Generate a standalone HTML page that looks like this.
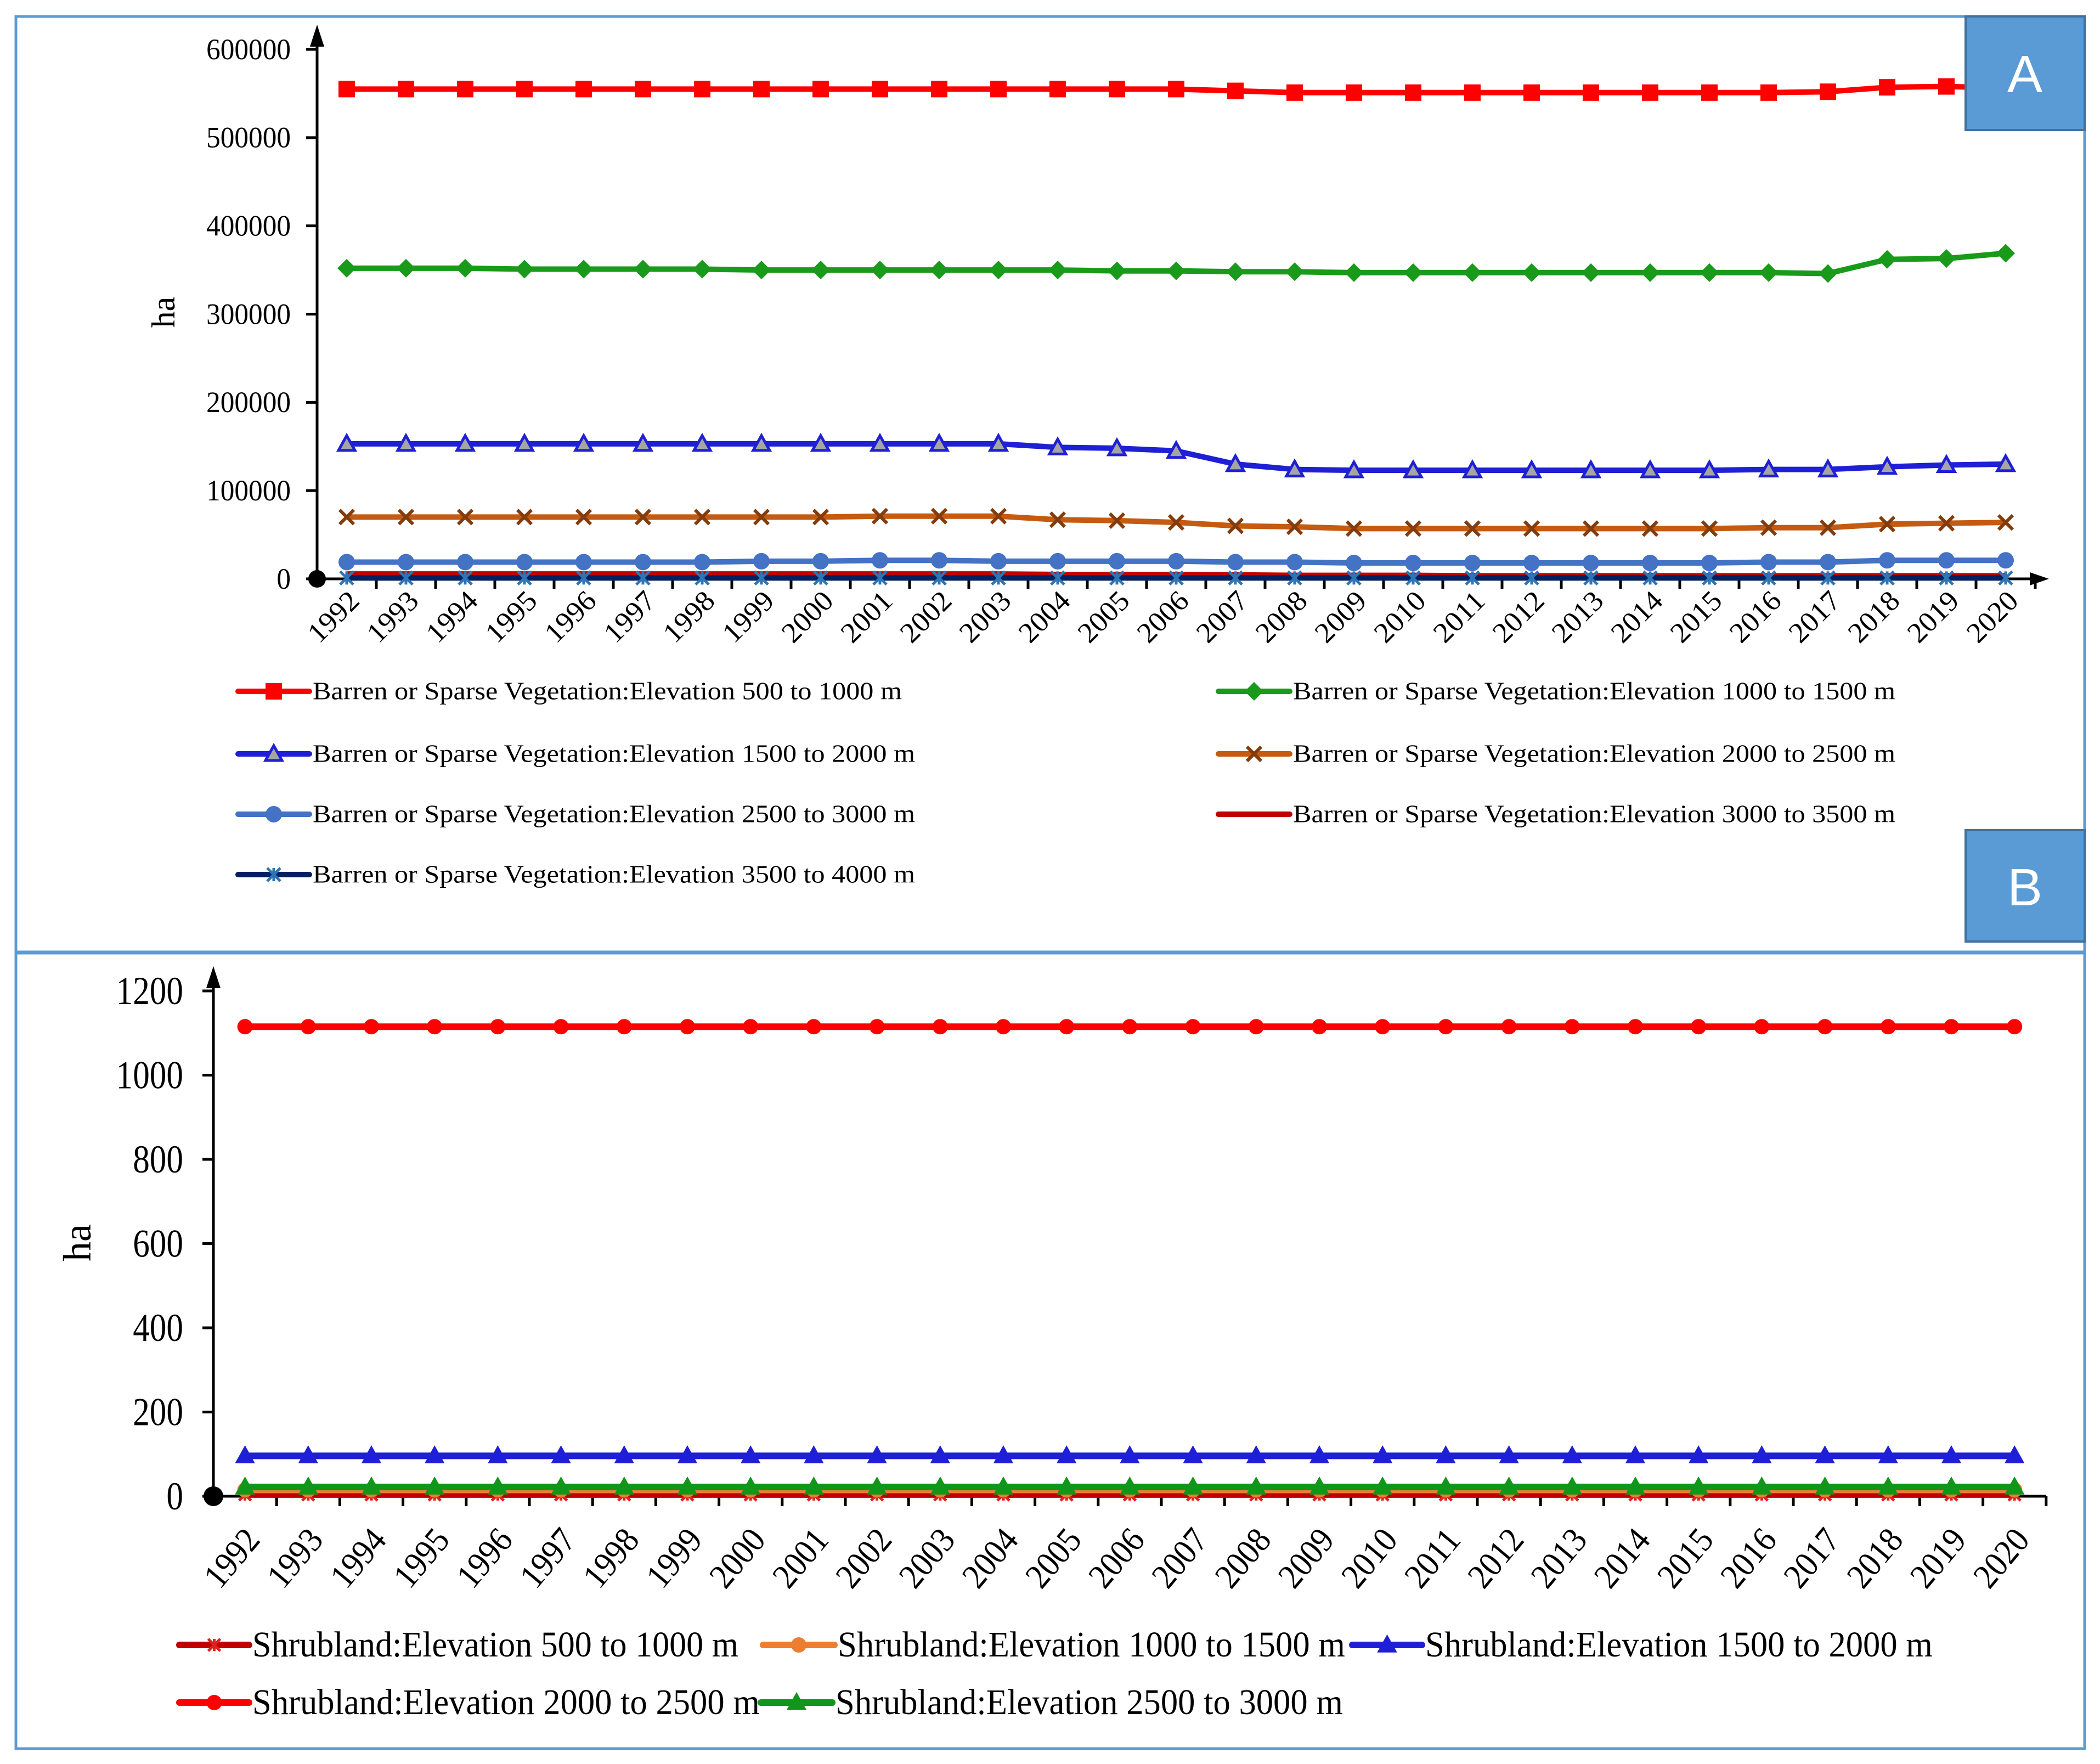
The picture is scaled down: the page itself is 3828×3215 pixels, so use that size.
<!DOCTYPE html>
<html><head><meta charset="utf-8"><style>
html,body{margin:0;padding:0;background:#fff;}
svg{display:block;font-family:"Liberation Serif",serif;}
</style></head><body>
<svg id="fig" width="3828" height="3215" viewBox="0 0 3828 3215" xmlns="http://www.w3.org/2000/svg">
<rect x="29" y="30" width="3771" height="1705" fill="none" stroke="#5b9bd5" stroke-width="5"/>
<rect x="29" y="1737" width="3771" height="1450" fill="none" stroke="#5b9bd5" stroke-width="5"/>
<g id="chartA"></g>
<g id="chartB"></g>
<rect x="3583" y="30" width="217" height="207" fill="#5b9bd5" stroke="#41719c" stroke-width="4"/>
<text x="3691" y="168" font-family="Liberation Sans, sans-serif" font-size="96" fill="#fff" text-anchor="middle">A</text>
<rect x="3583" y="1513" width="217" height="203" fill="#5b9bd5" stroke="#41719c" stroke-width="4"/>
<text x="3691" y="1650" font-family="Liberation Sans, sans-serif" font-size="96" fill="#fff" text-anchor="middle">B</text>
</svg>
<script>
const years = [1992,1993,1994,1995,1996,1997,1998,1999,2000,2001,2002,2003,2004,2005,2006,2007,2008,2009,2010,2011,2012,2013,2014,2015,2016,2017,2018,2019,2020];
const aTicks = [0,100000,200000,300000,400000,500000,600000];
const aNames = ["Barren or Sparse Vegetation:Elevation 500 to 1000 m","Barren or Sparse Vegetation:Elevation 1000 to 1500 m","Barren or Sparse Vegetation:Elevation 1500 to 2000 m","Barren or Sparse Vegetation:Elevation 2000 to 2500 m","Barren or Sparse Vegetation:Elevation 2500 to 3000 m","Barren or Sparse Vegetation:Elevation 3000 to 3500 m","Barren or Sparse Vegetation:Elevation 3500 to 4000 m"];
const a500 = [555000,555000,555000,555000,555000,555000,555000,555000,555000,555000,555000,555000,555000,555000,555000,553000,551000,551000,551000,551000,551000,551000,551000,551000,551000,552000,557000,558000,556000];
const a1000 = [352000,352000,352000,351000,351000,351000,351000,350000,350000,350000,350000,350000,350000,349000,349000,348000,348000,347000,347000,347000,347000,347000,347000,347000,347000,346000,362000,363000,369000];
const a1500 = [153000,153000,153000,153000,153000,153000,153000,153000,153000,153000,153000,153000,149000,148000,145000,130000,124000,123000,123000,123000,123000,123000,123000,123000,124000,124000,127000,129000,130000];
const a2000 = [70000,70000,70000,70000,70000,70000,70000,70000,70000,71000,71000,71000,67000,66000,64000,60000,59000,57000,57000,57000,57000,57000,57000,57000,58000,58000,62000,63000,64000];
const a2500 = [19000,19000,19000,19000,19000,19000,19000,20000,20000,21000,21000,20000,20000,20000,20000,19000,19000,18000,18000,18000,18000,18000,18000,18000,19000,19000,21000,21000,21000];
const a3000 = [5500,5500,5500,5500,5500,5500,5500,5500,5500,5500,5500,5500,5000,5000,5000,4500,4000,4000,4000,3500,3500,3500,3500,3500,3500,3500,3500,3500,3500];
const a3500 = [1000,1000,1000,1000,1000,1000,1000,1000,1000,1000,1000,1000,1000,1000,1000,1000,1000,1000,1000,1000,1000,1000,1000,1000,1000,1000,1000,1000,1000];
const bTicks = [0,200,400,600,800,1000,1200];
const bNames = ["Shrubland:Elevation 500 to 1000 m","Shrubland:Elevation 1000 to 1500 m","Shrubland:Elevation 1500 to 2000 m","Shrubland:Elevation 2000 to 2500 m","Shrubland:Elevation 2500 to 3000 m"];
const b500 = [4,4,4,4,4,4,4,4,4,4,4,4,4,4,4,4,4,4,4,4,4,4,4,4,4,4,4,4,4];
const b1000 = [15,15,15,15,15,15,15,15,15,15,15,15,15,15,15,15,15,15,15,15,15,15,15,15,15,15,15,15,15];
const b1500 = [96,96,96,96,96,96,96,96,96,96,96,96,96,96,96,96,96,96,96,96,96,96,96,96,96,96,96,96,96];
const b2000 = [1115,1115,1115,1115,1115,1115,1115,1115,1115,1115,1115,1115,1115,1115,1115,1115,1115,1115,1115,1115,1115,1115,1115,1115,1115,1115,1115,1115,1115];
const b2500 = [22,22,22,22,22,22,22,22,22,22,22,22,22,22,22,22,22,22,22,22,22,22,22,22,22,22,22,22,22];

const NS="http://www.w3.org/2000/svg";
function mk(parent,tag,attrs){const e=document.createElementNS(NS,tag);for(const k in attrs)e.setAttribute(k,attrs[k]);parent.appendChild(e);return e;}

function marker(g,type,x,y,s,fill,stroke){
  let e;
  if(type==="square"){e=mk(g,"rect",{x:x-s/2,y:y-s/2,width:s,height:s,fill:fill});}
  else if(type==="diamond"){e=mk(g,"polygon",{points:`${x},${y-s/2} ${x+s/2},${y} ${x},${y+s/2} ${x-s/2},${y}`,fill:fill});}
  else if(type==="triangle"){e=mk(g,"polygon",{points:`${x},${y-s/2} ${x+s/2},${y+s/2*0.8} ${x-s/2},${y+s/2*0.8}`,fill:fill,stroke:stroke,"stroke-width":5});}
  else if(type==="circle"){e=mk(g,"circle",{cx:x,cy:y,r:s/2,fill:fill});}
  else if(type==="x"){e=mk(g,"path",{d:`M${x-s/2},${y-s/2}L${x+s/2},${y+s/2}M${x+s/2},${y-s/2}L${x-s/2},${y+s/2}`,stroke:fill,"stroke-width":6,fill:"none"});}
  else if(type==="star"){e=mk(g,"path",{d:`M${x-s/2},${y-s/2}L${x+s/2},${y+s/2}M${x+s/2},${y-s/2}L${x-s/2},${y+s/2}M${x},${y-s/2}L${x},${y+s/2}`,stroke:fill,"stroke-width":5,fill:"none"});}
  else return null;
  return e;
}

function chart(cfg){
  const g=document.getElementById(cfg.id);
  const X=i=>cfg.x0+cfg.cw*(i+0.5);
  const Y=v=>cfg.y0-(v/cfg.max)*(cfg.y0-cfg.yTop);
  const xEnd=cfg.x0+cfg.cw*years.length;
  let e=mk(g,"line",{x1:cfg.x0,y1:cfg.y0,x2:cfg.x0,y2:cfg.yTop-20,stroke:"#000","stroke-width":5});
  
  
  e=mk(g,"polygon",{points:`${cfg.x0},${cfg.yTop-45} ${cfg.x0-13},${cfg.yTop-5} ${cfg.x0+13},${cfg.yTop-5}`,fill:"#000"});
  
  
  e=mk(g,"line",{x1:cfg.x0,y1:cfg.y0,x2:xEnd,y2:cfg.y0,stroke:"#000","stroke-width":5});
  
  
  if(cfg.xArrow){
    e=mk(g,"polygon",{points:`${xEnd+25},${cfg.y0} ${xEnd-10},${cfg.y0-12} ${xEnd-10},${cfg.y0+12}`,fill:"#000"});
    
    
  }
  e=mk(g,"circle",{cx:cfg.x0,cy:cfg.y0,r:cfg.dot,fill:"#000"});
  
  
  cfg.ticks.forEach(t=>{
    const y=Y(t);
    let l=mk(g,"line",{x1:cfg.x0-20,y1:y,x2:cfg.x0,y2:y,stroke:"#000","stroke-width":5});
    
    
    let tx=mk(g,"text",{x:cfg.ylabX,y:y+cfg.yfs*0.33,"font-size":cfg.yfs,"text-anchor":"end",fill:"#000"});
    if(cfg.yScale){tx.setAttribute("transform",`translate(${cfg.ylabX},0) scale(${cfg.yScale},1) translate(${-cfg.ylabX},0)`);}
    tx.textContent=t;
    
    
  });
  for(let i=1;i<=years.length;i++){
    const x=cfg.x0+cfg.cw*i;
    let l=mk(g,"line",{x1:x,y1:cfg.y0,x2:x,y2:cfg.y0+18,stroke:"#000","stroke-width":5});
    
    
  }
  years.forEach((yr,i)=>{
    const x=X(i)+cfg.xlabDx, y=cfg.xlabY;
    let tx=mk(g,"text",{x:x,y:y,"font-size":cfg.xfs,"text-anchor":"end",fill:"#000",transform:`rotate(${cfg.rot},${x},${y})`,textLength:cfg.xLen,lengthAdjust:"spacingAndGlyphs"});
    tx.textContent=yr;
    
    
  });
  let ha=mk(g,"text",{x:cfg.haX,y:cfg.haY,"font-size":cfg.hafs,"text-anchor":"middle",fill:"#000",transform:`rotate(-90,${cfg.haX},${cfg.haY})`});
  ha.textContent="ha";
  
  
  cfg.series.forEach(s=>{
    const sg=mk(g,"g",{});
    
    
    const pts=s.data.map((v,i)=>`${X(i)},${Y(v)}`).join(" ");
    let pl=mk(sg,"polyline",{points:pts,fill:"none",stroke:s.color,"stroke-width":cfg.lw,"stroke-linejoin":"round"});
    
    
    s.data.forEach((v,i)=>{
      const m=marker(sg,s.marker,X(i),Y(v),s.ms||cfg.ms,s.mfill||s.color,s.color);
      if(m){
        
        
      }
    });
  });
  cfg.legend.forEach((L,k)=>{
    const s=cfg.series[k];
    const lg=mk(g,"g",{});
    
    
    mk(lg,"line",{x1:L.x,y1:L.y,x2:L.x+L.lw,y2:L.y,stroke:s.color,"stroke-width":cfg.lw,"stroke-linecap":"round"});
    marker(lg,s.marker,L.x+L.lw/2,L.y,s.ms||cfg.ms,s.mfill||s.color,s.color);
    const tx=mk(lg,"text",{x:L.x+L.lw+6,y:L.y+cfg.lfs*0.32,"font-size":cfg.lfs,fill:"#000",textLength:L.tl,lengthAdjust:"spacingAndGlyphs"});
    tx.textContent=L.name;
  });
}

const aLegX1=434,aLegX2=2221;
chart({id:"chartA",x0:578,y0:1055,yTop:90,max:600000,cw:108,ticks:aTicks,ylabX:530,yfs:54,yScale:0.95,xfs:52,rot:-45,xlabY:1098,xlabDx:26,xLen:108,
  haX:318,haY:569,hafs:60,lw:10,ms:30,dot:16,xArrow:true,lfs:46,
  series:[
    {key:"500-1000",data:a500,color:"#ff0000",marker:"square"},
    {key:"1000-1500",data:a1000,color:"#1a9a1a",marker:"diamond",ms:34},
    {key:"1500-2000",data:a1500,color:"#1f1fd6",marker:"triangle",mfill:"#a5a5a5"},
    {key:"2000-2500",data:a2000,color:"#c55a11",marker:"x",mfill:"#843c0c",ms:26},
    {key:"2500-3000",data:a2500,color:"#4472c4",marker:"circle"},
    {key:"3000-3500",data:a3000,color:"#c00000",marker:"none"},
    {key:"3500-4000",data:a3500,color:"#002060",marker:"star",mfill:"#2e75b6",ms:24}
  ],
  legend:[
    {x:aLegX1,y:1260,lw:130,name:aNames[0],tl:1074},
    {x:aLegX2,y:1260,lw:130,name:aNames[1],tl:1098},
    {x:aLegX1,y:1374,lw:130,name:aNames[2],tl:1098},
    {x:aLegX2,y:1374,lw:130,name:aNames[3],tl:1098},
    {x:aLegX1,y:1484,lw:130,name:aNames[4],tl:1098},
    {x:aLegX2,y:1484,lw:130,name:aNames[5],tl:1098},
    {x:aLegX1,y:1594,lw:130,name:aNames[6],tl:1098}
  ]});

chart({id:"chartB",x0:389,y0:2727,yTop:1806,max:1200,cw:115.2,ticks:bTicks,ylabX:334,yfs:72,yScale:0.85,xfs:64,rot:-50,xlabY:2808,xlabDx:30,xLen:118,
  haX:165,haY:2265,hafs:72,lw:12,ms:28,dot:18,xArrow:false,lfs:66,
  series:[
    {key:"shrub-500-1000",data:b500,color:"#c00000",marker:"star",mfill:"#e02020",ms:22},
    {key:"shrub-1000-1500",data:b1000,color:"#ed7d31",marker:"circle"},
    {key:"shrub-1500-2000",data:b1500,color:"#1f1fd6",marker:"triangle",mfill:"#1f1fd6"},
    {key:"shrub-2000-2500",data:b2000,color:"#ff0000",marker:"circle"},
    {key:"shrub-2500-3000",data:b2500,color:"#109618",marker:"triangle",mfill:"#109618"}
  ],
  legend:[
    {x:327,y:2998,lw:127,name:bNames[0],tl:886},
    {x:1391,y:2998,lw:130,name:bNames[1],tl:925},
    {x:2465,y:2998,lw:127,name:bNames[2],tl:925},
    {x:327,y:3103,lw:127,name:bNames[3],tl:925},
    {x:1387,y:3103,lw:130,name:bNames[4],tl:925}
  ]});
</script>
</body></html>
